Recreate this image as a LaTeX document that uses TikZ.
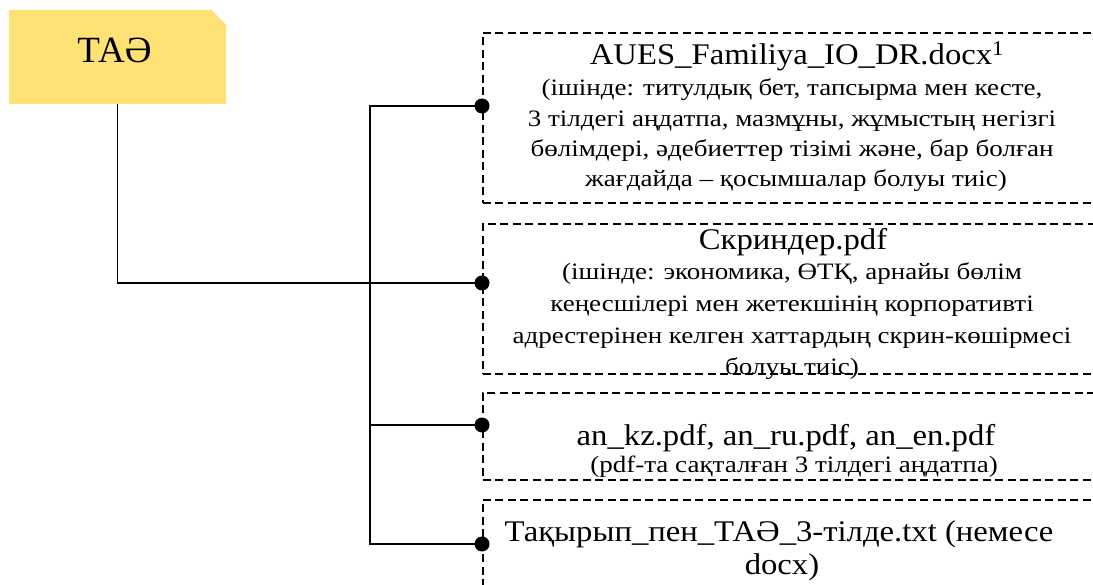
\documentclass[tikz,border=0pt]{standalone}
\usepackage{fontspec}
\setmainfont{Liberation Serif}
\newfontfamily\tfont[FakeStretch=1.09]{Liberation Serif}
\newfontfamily\sfont[FakeStretch=1.15]{Liberation Serif}
\definecolor{taeyellow}{RGB}{255,226,117}
\tikzset{
  dbox/.style={draw, dashed, dash pattern=on 8pt off 4.5pt, line width=1.6pt, rectangle, inner sep=0pt, anchor=north west},
  conn/.style={draw, line width=1.9pt},
  txt/.style={anchor=base, inner sep=0pt},
  big/.style={txt, font=\tfont\fontsize{30}{32}\selectfont},
  small/.style={txt, font=\sfont\fontsize{23.5}{26}\selectfont},
}
\begin{document}
\begin{tikzpicture}[x=1pt,y=-1pt]
\useasboundingbox (0,0) rectangle (1093,585);
\clip (0,0) rectangle (1093,585);
% root box
\node[minimum width=217pt, minimum height=94pt, inner sep=0pt] (tae) at (117.5,57) {};
\fill[taeyellow] (tae.south west) -- (tae.north west) -- ([xshift=-15pt]tae.north east)
  -- ([yshift=-15pt]tae.north east) -- (tae.south east) -- cycle;
\node[txt, font=\fontsize{37}{40}\selectfont] (taetext) at (114.5,63) {ТАӘ};
% dashed boxes
\node[dbox, minimum width=619pt, minimum height=170pt] (b1) at (482,32) {};
\node[dbox, minimum width=619pt, minimum height=150pt] (b2) at (482,223) {};
\node[dbox, minimum width=619pt, minimum height=87pt] (b3) at (482,392) {};
\node[dbox, minimum width=619pt, minimum height=120pt] (b4) at (482,499) {};
% box texts
\node[big]   (t11) at (797,65)  {AUES\_Familiya\_IO\_DR.docx\textsuperscript{1}};
\node[small] (t12) at (792,96)  {(ішінде: титулдық бет, тапсырма мен кесте,};
\node[small] (t13) at (792,127) {3 тілдегі аңдатпа, мазмұны, жұмыстың негізгі};
\node[small] (t14) at (792,157) {бөлімдері, әдебиеттер тізімі және, бар болған};
\node[small] (t15) at (796,187) {жағдайда – қосымшалар болуы тиіс)};
\node[big]   (t21) at (793,250) {Скриндер.pdf};
\node[small] (t22) at (792,280) {(ішінде: экономика, ӨТҚ, арнайы бөлім};
\node[small] (t23) at (792,312) {кеңесшілері мен жетекшінің корпоративті};
\node[small] (t24) at (792,344) {адрестерінен келген хаттардың скрин-көшірмесі};
\node[small] (t25) at (792,375) {болуы тиіс)};
\node[big]   (t31) at (786,446) {an\_kz.pdf, an\_ru.pdf, an\_en.pdf};
\node[small] (t32) at (794,472) {(pdf-та сақталған 3 тілдегі аңдатпа)};
\node[big]   (t41) at (779,541) {Тақырып\_пен\_ТАӘ\_3-тілде.txt (немесе};
\node[big]   (t42) at (782,574) {docx)};
% connector points
\coordinate (d1) at (b1.west |- 0,106);
\coordinate (d2) at (b2.west |- 0,283);
\coordinate (d3) at (b3.west |- 0,425);
\coordinate (d4) at (b4.west |- 0,544);
\coordinate (tb) at (370,544);
\coordinate (tm) at (370,425);
% connectors
\draw[conn] (tae.south) |- (d2);
\draw[conn] (d1) -| (tb) -- (d4);
\draw[conn] (tm) -- (d3);
\foreach \d in {d1,d2,d3,d4} \fill (\d) circle (7.5pt);
\end{tikzpicture}
\end{document}
